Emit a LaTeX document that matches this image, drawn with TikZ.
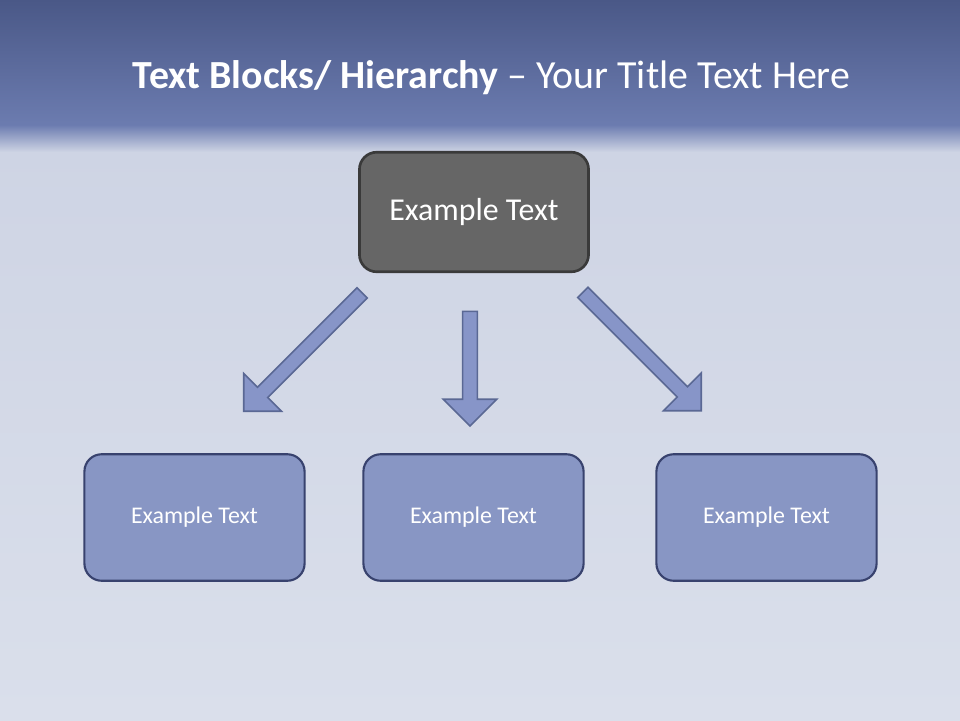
\documentclass[tikz,border=0pt]{standalone}
\usepackage{fontspec}
\setmainfont{Carlito}
\usetikzlibrary{shapes.arrows}

\definecolor{bandtop}{RGB}{74,88,135}
\definecolor{bandbot}{RGB}{108,124,176}
\definecolor{cloth}{RGB}{206,212,228}
\definecolor{clothlight}{RGB}{218,223,235}
\definecolor{rootfill}{RGB}{102,102,102}
\definecolor{rootline}{RGB}{58,58,58}
\definecolor{leaffill}{RGB}{136,150,196}
\definecolor{leafline}{RGB}{56,66,110}
\definecolor{arrfill}{RGB}{135,149,200}
\definecolor{arrline}{RGB}{90,104,148}

\tikzset{
  rootbox/.style={draw=rootline, line width=2pt, fill=rootfill, rounded corners=13pt,
    minimum width=172.5pt, minimum height=90pt, text=white, font=\fontsize{24}{28}\selectfont},
  leafbox/.style={draw=leafline, line width=1.6pt, fill=leaffill, rounded corners=13pt,
    minimum width=165.75pt, minimum height=95.25pt, text=white, font=\fontsize{18}{22}\selectfont},
  blockarrow/.style={single arrow, draw=arrline, line width=1.2pt, fill=arrfill,
    inner xsep=0pt, inner ysep=4.9pt, single arrow head extend=14.6pt,
    single arrow tip angle=90, single arrow head indent=0pt}
}

\begin{document}
\begin{tikzpicture}[x=0.264583mm, y=-0.264583mm]
  % backdrop
  \useasboundingbox (0,0) rectangle (960,720);
  \fill[top color=cloth, bottom color=clothlight] (0,145) rectangle (960,720);
  \fill[top color=bandtop, bottom color=bandbot] (0,0) rectangle (960,126);
  \fill[top color=bandbot, bottom color=cloth] (0,125) rectangle (960,152);

  % title
  \node (title) at (491.5,78) [text=white, font=\fontsize{30}{36}\selectfont]
    {\textbf{Text Blocks/ Hierarchy} -- Your Title Text Here};

  % boxes
  \node (root) at (474,212) [rootbox] {Example Text};
  \node (leftbox) at (194.5,517.5) [leafbox] {Example Text};
  \node (midbox) at (473.5,517.5) [leafbox] {Example Text};
  \node (rightbox) at (766.5,517.5) [leafbox] {Example Text};

  % arrows
  \node (arrleft) at (305.5,349.5) [blockarrow, rotate=225, minimum height=126pt] {};
  \node (arrmid) at (470,365) [blockarrow, rotate=-90, minimum height=86.25pt] {};
  \node (arrright) at (639.5,349) [blockarrow, rotate=-45, minimum height=126pt] {};
\end{tikzpicture}
\end{document}
